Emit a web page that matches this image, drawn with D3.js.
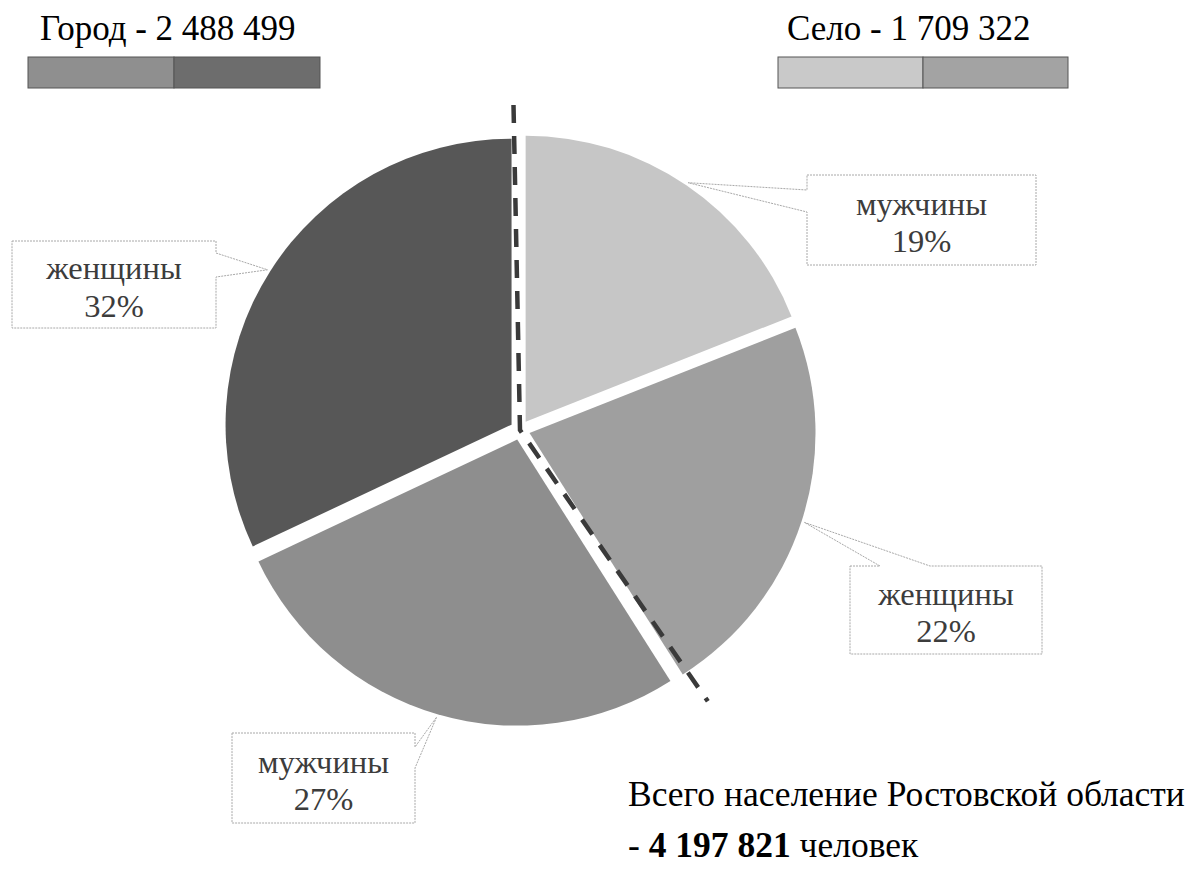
<!DOCTYPE html>
<html><head><meta charset="utf-8">
<script src="https://cdn.jsdelivr.net/npm/d3@7"></script>
</head><body style="margin:0;background:#fff">
<svg id="c" width="1191" height="870" style="display:block"></svg>
<script>
// ---- data ----
const groupNames = ["Город", "Село"];
const groupTotals = [2488499, 1709322];
const grandTotal = 4197821;
const sliceNames = ["мужчины", "женщины", "мужчины", "женщины"];
const sliceGroups = ["Село", "Село", "Город", "Город"];
const slicePercents = [19, 22, 27, 32];
const regionTitle = "Всего население Ростовской области";
const unitLabel = "человек";

// ---- styles / layout ----
const FONT = "Liberation Serif";
const FS = 35;
const LABEL_FS = 32.5;
const sliceColors = ["#c6c6c6", "#9f9f9f", "#8e8e8e", "#575757"];
const legendColors = {"Город": ["#8f8f8f", "#6d6d6d"], "Село": ["#c9c9c9", "#a3a3a3"]};
const legendLayout = {"Город": {tx: 40, bx: 28, bw: 292}, "Село": {tx: 787, bx: 778, bw: 290}};
const boxLayout = [
  {x: 807, y: 175, w: 229, h: 90, side: "left",  n: [15, 37]},
  {x: 850, y: 566, w: 192, h: 88, side: "top",   n: [30, 80]},
  {x: 232, y: 733, w: 183, h: 90, side: "right", n: [14, 35]},
  {x: 12,  y: 241, w: 204, h: 87, side: "right", n: [12, 36]}
];
const cx = 520, cy = 430, R = 286, explode = 10;

const svg = d3.select("#c");
const fmt = d3.formatLocale({decimal: ",", thousands: " ", grouping: [3], currency: ["", ""]}).format(",d");

function addText(parent, size) {
  return parent.append("text").attr("font-family", FONT).style("font-family", FONT).attr("font-size", size || FS);
}

// ---- pie ----
const pie = d3.pie().sort(null).value(d => d).startAngle(0).endAngle(2 * Math.PI);
const arcs = pie(slicePercents);
const arcGen = d3.arc().innerRadius(0).outerRadius(R);
const tipArc = d3.arc().innerRadius(R + explode + 3).outerRadius(R + explode + 3);

const g = svg.append("g").attr("transform", `translate(${cx},${cy})`);
g.selectAll("path.slice").data(arcs).join("path")
  .attr("class", "slice")
  .attr("d", arcGen)
  .attr("fill", (d, i) => sliceColors[i])
  .attr("transform", d => {
    const m = (d.startAngle + d.endAngle) / 2;
    return `translate(${Math.sin(m) * explode},${-Math.cos(m) * explode})`;
  });

// ---- dashed separator between Город and Село ----
const selo = arcs.filter((d, i) => sliceGroups[i] === "Село");
const sepStart = selo[0].startAngle - 0.02;
const sepEnd = selo[selo.length - 1].endAngle - 0.04;
const pt = (a, L) => [Math.sin(a) * L, -Math.cos(a) * L];
g.append("path")
  .attr("d", d3.line()([pt(sepStart, 325), [0, 0], pt(sepEnd, 330)]))
  .attr("fill", "none")
  .attr("stroke", "#3a3a3a")
  .attr("stroke-width", 4.5)
  .attr("stroke-dasharray", "18,13");

// ---- callout labels ----
function calloutPath(b, tip) {
  const p = d3.path();
  const [n0, n1] = b.n;
  p.moveTo(b.x, b.y);
  if (b.side === "top") { p.lineTo(b.x + n0, b.y); p.lineTo(tip[0], tip[1]); p.lineTo(b.x + n1, b.y); }
  p.lineTo(b.x + b.w, b.y);
  if (b.side === "right") { p.lineTo(b.x + b.w, b.y + n0); p.lineTo(tip[0], tip[1]); p.lineTo(b.x + b.w, b.y + n1); }
  p.lineTo(b.x + b.w, b.y + b.h);
  p.lineTo(b.x, b.y + b.h);
  if (b.side === "left") { p.lineTo(b.x, b.y + n1); p.lineTo(tip[0], tip[1]); p.lineTo(b.x, b.y + n0); }
  p.closePath();
  return p.toString();
}
arcs.forEach((d, i) => {
  const b = boxLayout[i];
  const c = tipArc.centroid(d);
  const tip = [cx + c[0], cy + c[1]];
  svg.append("path")
    .attr("d", calloutPath(b, tip))
    .attr("fill", "#fff")
    .attr("stroke", "#a8a8a8")
    .attr("stroke-width", 1)
    .attr("stroke-dasharray", "2,1");
  const mx = b.x + b.w / 2, my = b.y + b.h / 2;
  addText(svg, LABEL_FS).attr("text-anchor", "middle").attr("fill", "#3c3c3c")
    .attr("x", mx).attr("y", my - 5.5).text(sliceNames[i]);
  addText(svg, LABEL_FS).attr("text-anchor", "middle").attr("fill", "#3c3c3c")
    .attr("x", mx).attr("y", my + 32).text(slicePercents[i] + "%");
});

// ---- legend bars ----
groupNames.forEach((name, gi) => {
  const lay = legendLayout[name];
  addText(svg).attr("x", lay.tx).attr("y", 40).attr("fill", "#000")
    .text(`${name} - ${fmt(groupTotals[gi])}`);
  const parts = sliceNames.filter((s, i) => sliceGroups[i] === name);
  const xs = d3.scaleBand().domain(parts).range([lay.bx, lay.bx + lay.bw]);
  svg.selectAll(null).data(parts).join("rect")
    .attr("x", d => xs(d)).attr("y", 57)
    .attr("width", xs.bandwidth()).attr("height", 31)
    .attr("fill", (d, k) => legendColors[name][k])
    .attr("stroke", "#555").attr("stroke-width", 1);
});

// ---- total ----
addText(svg, 35.5).attr("x", 628).attr("y", 806).attr("fill", "#000").text(regionTitle);
const t2 = addText(svg, 35.5).attr("fill", "#000").attr("x", 628).attr("y", 857);
t2.append("tspan").text("- ");
t2.append("tspan").attr("font-weight", "bold").text(fmt(grandTotal));
t2.append("tspan").text(" " + unitLabel);
</script>
</body></html>
